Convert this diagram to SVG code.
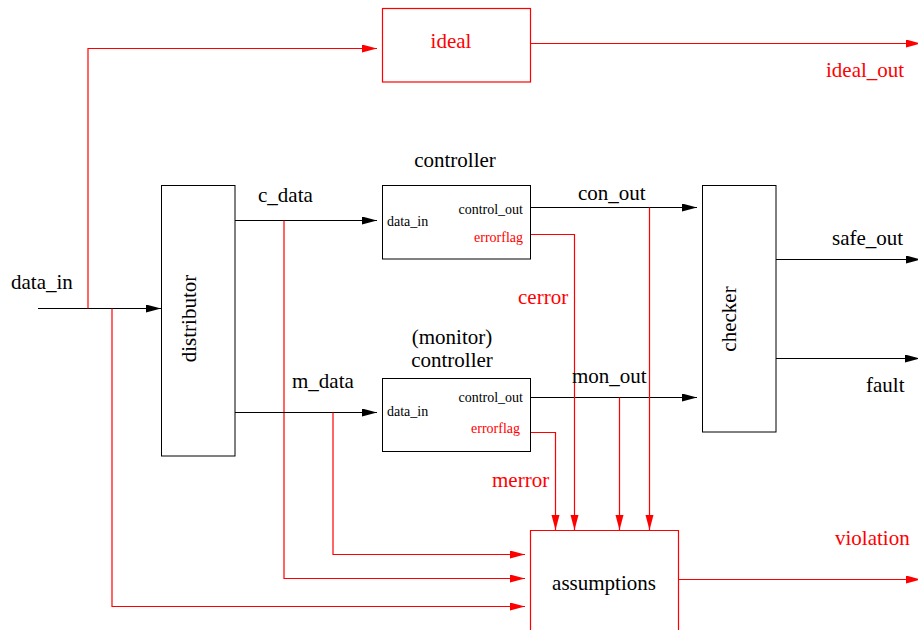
<svg xmlns="http://www.w3.org/2000/svg" width="918" height="630" viewBox="0 0 918 630">
<style>
.t{font-family:"Liberation Serif","Times New Roman",serif;fill:#000}
.big{font-size:21px}
.small{font-size:14px}
.red{fill:#ff0000}
.box{fill:#fff;stroke:#000;stroke-width:1}
.rbox{fill:#fff;stroke:#ff0000;stroke-width:1.2}
.k{fill:none;stroke:#000;stroke-width:1}
.r{fill:none;stroke:#ff0000;stroke-width:1.2}
.ka{marker-end:url(#ak)}
.ra{marker-end:url(#ar)}
</style>
<defs>
<marker id="ak" markerUnits="userSpaceOnUse" markerWidth="16" markerHeight="10" refX="15" refY="4" orient="auto">
<path d="M0,0 L15,4 L0,8 z" fill="#000"/>
</marker>
<marker id="ar" markerUnits="userSpaceOnUse" markerWidth="16" markerHeight="10" refX="15" refY="4" orient="auto">
<path d="M0,0 L15,4 L0,8 z" fill="#ff0000"/>
</marker>
</defs>
<rect width="918" height="630" fill="#fff"/>
<g id="connectors">
<path class="k ka" d="M38,308.5 H161"/>
<path class="r ra" d="M88,308.5 V48.5 H377"/>
<path class="r ra" d="M112,308.5 V606.5 H525"/>
<path class="k ka" d="M235,220.5 H377"/>
<path class="r ra" d="M284,220.5 V578.5 H525"/>
<path class="k ka" d="M235,412.5 H377"/>
<path class="r ra" d="M333,412.5 V554.5 H525"/>
<path class="r ra" d="M530,43.5 H921"/>
<path class="k ka" d="M530,207.5 H697"/>
<path class="k ka" d="M530,397.5 H697"/>
<path class="r ra" d="M530,234.5 H574.5 V530"/>
<path class="r ra" d="M530,432.5 H555.5 V530"/>
<path class="r ra" d="M649.5,207.5 V530"/>
<path class="r ra" d="M619.5,397.5 V530"/>
<path class="k ka" d="M776,259.5 H921"/>
<path class="k ka" d="M776,358.5 H920"/>
<path class="r ra" d="M678,579.5 H921"/>
<text class="t big" x="11" y="289">data_in</text>
<text class="t big" x="258" y="202">c_data</text>
<text class="t big" x="292" y="388">m_data</text>
<text class="t big" x="578" y="200">con_out</text>
<text class="t big" x="572" y="383">mon_out</text>
<text class="t big" x="832" y="245">safe_out</text>
<text class="t big" x="866" y="392">fault</text>
<text class="t big red" x="826" y="77">ideal_out</text>
<text class="t big red" x="518" y="304">cerror</text>
<text class="t big red" x="492" y="487">merror</text>
<text class="t big red" x="835" y="545">violation</text>
</g>
<g id="ideal">
<rect class="rbox" x="382.5" y="8.5" width="148" height="73.5"/>
<text class="t big red" x="451" y="48" text-anchor="middle">ideal</text>
</g>
<g id="distributor">
<rect class="box" x="161.5" y="185.5" width="73.5" height="270.5"/>
<text class="t big" transform="translate(196,318.5) rotate(-90)" text-anchor="middle">distributor</text>
</g>
<g id="controller">
<text class="t big" x="455" y="167" text-anchor="middle">controller</text>
<rect class="box" x="382.5" y="185.5" width="148" height="73.5"/>
<text class="t small" x="387" y="226">data_in</text>
<text class="t small" x="523" y="214" text-anchor="end">control_out</text>
<text class="t small red" x="523" y="242" text-anchor="end">errorflag</text>
</g>
<g id="monitor">
<text class="t big" x="452" y="344" text-anchor="middle">(monitor)</text>
<text class="t big" x="452" y="367" text-anchor="middle">controller</text>
<rect class="box" x="382.5" y="378.5" width="148" height="73"/>
<text class="t small" x="387" y="416">data_in</text>
<text class="t small" x="523" y="402" text-anchor="end">control_out</text>
<text class="t small red" x="520" y="433" text-anchor="end">errorflag</text>
</g>
<g id="checker">
<rect class="box" x="702.5" y="185.5" width="73.5" height="246.5"/>
<text class="t big" transform="translate(736,319) rotate(-90)" text-anchor="middle">checker</text>
</g>
<g id="assumptions">
<path class="r" d="M530.5,632 V530.5 H678.5 V632" fill="#fff"/>
<text class="t big" x="604" y="590" text-anchor="middle">assumptions</text>
</g>
</svg>
